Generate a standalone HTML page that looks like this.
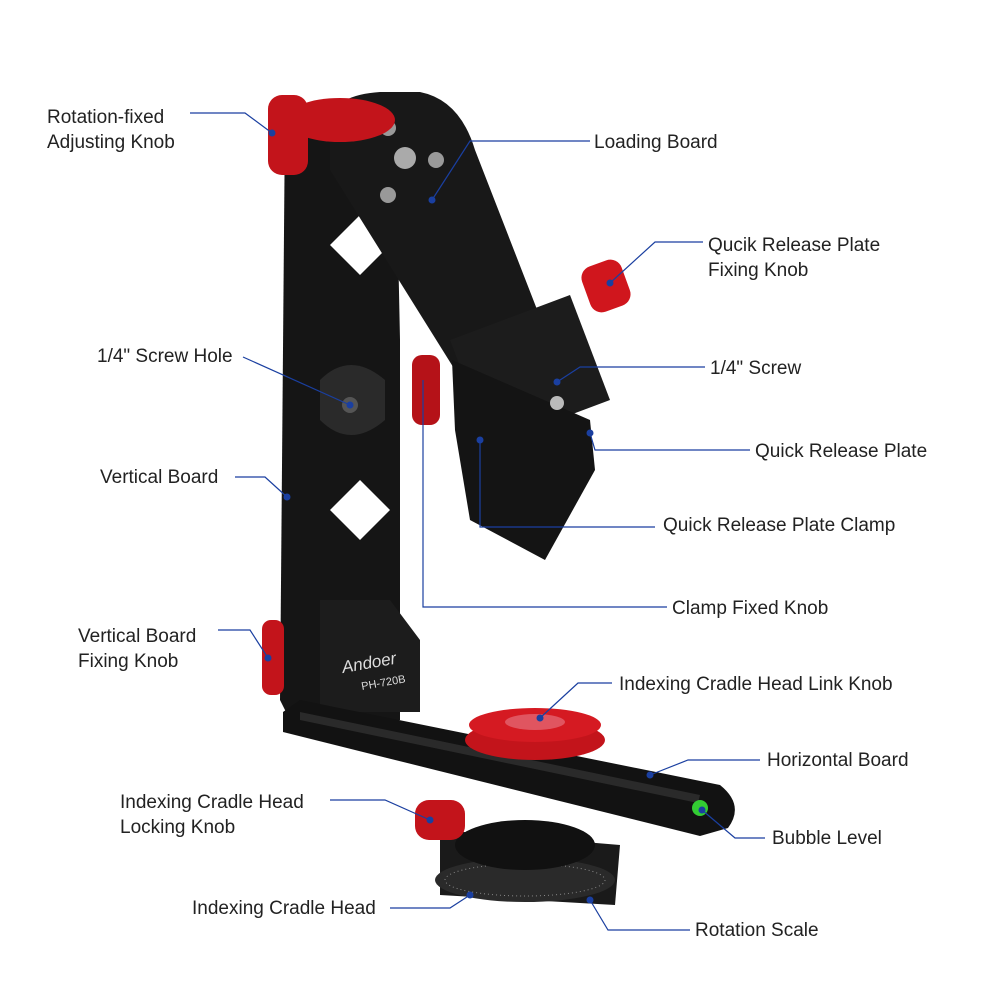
<!DOCTYPE html>
<html><head><meta charset="utf-8"><style>
html,body{margin:0;padding:0;background:#fff}
svg{display:block}
text{font-family:"Liberation Sans",sans-serif;font-size:19px;fill:#222;font-weight:300}
.l{stroke:#1a3fa0;stroke-width:1.2;fill:none}
.d{fill:#1a3fa0}
</style></head><body>
<svg width="1000" height="1000" viewBox="0 0 1000 1000">
<!-- vertical board -->
<path d="M285 115 L330 100 L395 100 L400 340 L400 720 L290 720 L280 700 Z" fill="#151515"/>
<path d="M330 245 L360 215 L390 245 L360 275 Z M330 510 L360 480 L390 510 L360 540 Z" fill="#fff"/>
<path d="M320 380 Q350 350 385 380 L385 420 Q350 450 320 420 Z" fill="#2a2a2a"/>
<circle cx="350" cy="405" r="8" fill="#555"/>
<!-- base wedge -->
<path d="M320 600 L390 600 L420 640 L420 712 L320 712 Z" fill="#1c1c1c"/>
<text x="343" y="673" style="fill:#ddd;font-size:17px;font-style:italic" transform="rotate(-10 343 673)">Andoer</text>
<text x="362" y="690" style="fill:#ddd;font-size:11px" transform="rotate(-10 362 690)">PH-720B</text>
<!-- horizontal board -->
<path d="M283 712 L300 700 L720 785 Q745 805 728 828 L700 836 L283 732 Z" fill="#121212"/>
<path d="M300 712 L700 795 L698 803 L300 720 Z" fill="#2a2a2a"/>
<!-- rotation base -->
<path d="M440 830 L620 845 L615 905 L440 895 Z" fill="#1a1a1a"/>
<ellipse cx="525" cy="880" rx="90" ry="22" fill="#2a2a2a"/>
<ellipse cx="525" cy="880" rx="80" ry="16" fill="none" stroke="#888" stroke-width="1" stroke-dasharray="1 3"/>
<ellipse cx="525" cy="845" rx="70" ry="25" fill="#111"/>
<!-- loading board (diagonal) -->
<path d="M330 120 Q335 95 380 92 L420 92 Q460 100 475 150 L545 330 L455 370 L330 170 Z" fill="#181818"/>
<circle cx="388" cy="128" r="8" fill="#999"/><circle cx="405" cy="158" r="11" fill="#aaa"/><circle cx="436" cy="160" r="8" fill="#999"/><circle cx="388" cy="195" r="8" fill="#999"/>
<!-- quick release plate & clamp -->
<path d="M450 340 L570 295 L610 400 L490 445 Z" fill="#1c1c1c"/>
<path d="M452 360 L590 420 L595 470 L545 560 L470 520 L455 430 Z" fill="#141414"/>
<circle cx="557" cy="403" r="7" fill="#bbb"/>
<!-- red knobs -->
<ellipse cx="340" cy="120" rx="55" ry="22" fill="#c3141b"/>
<rect x="268" y="95" width="40" height="80" rx="14" fill="#c3141b"/>
<rect x="262" y="620" width="22" height="75" rx="9" fill="#c3141b"/>
<rect x="412" y="355" width="28" height="70" rx="10" fill="#b51218"/>
<rect x="585" y="262" width="42" height="48" rx="12" fill="#d0161d" transform="rotate(-20 606 286)"/>
<ellipse cx="535" cy="740" rx="70" ry="20" fill="#c3141b"/>
<ellipse cx="535" cy="725" rx="66" ry="17" fill="#d51a22"/>
<ellipse cx="535" cy="722" rx="30" ry="8" fill="#e05560"/>
<rect x="415" y="800" width="50" height="40" rx="14" fill="#c3141b"/>
<circle cx="700" cy="808" r="8" fill="#3c3"/>
<!-- labels & leaders -->
<text x="47" y="123">Rotation-fixed</text><text x="47" y="148">Adjusting Knob</text>
<path class="l" d="M190 113 H245 L272 133"/><circle class="d" cx="272" cy="133" r="3.5"/>
<text x="594" y="148">Loading Board</text>
<path class="l" d="M590 141 H470 L432 200"/><circle class="d" cx="432" cy="200" r="3.5"/>
<text x="708" y="251">Qucik Release Plate</text><text x="708" y="276">Fixing Knob</text>
<path class="l" d="M703 242 H655 L610 283"/><circle class="d" cx="610" cy="283" r="3.5"/>
<text x="97" y="362">1/4" Screw Hole</text>
<path class="l" d="M243 357 L350 405"/><circle class="d" cx="350" cy="405" r="3.5"/>
<text x="710" y="374">1/4" Screw</text>
<path class="l" d="M705 367 H580 L557 382"/><circle class="d" cx="557" cy="382" r="3.5"/>
<text x="755" y="457">Quick Release Plate</text>
<path class="l" d="M750 450 H595 L590 433"/><circle class="d" cx="590" cy="433" r="3.5"/>
<text x="100" y="483">Vertical Board</text>
<path class="l" d="M235 477 H265 L287 497"/><circle class="d" cx="287" cy="497" r="3.5"/>
<text x="663" y="531">Quick Release Plate Clamp</text>
<path class="l" d="M655 527 H480 V440"/><circle class="d" cx="480" cy="440" r="3.5"/>
<text x="672" y="614">Clamp Fixed Knob</text>
<path class="l" d="M667 607 H423 V380"/>
<text x="78" y="642">Vertical Board</text><text x="78" y="667">Fixing Knob</text>
<path class="l" d="M218 630 H250 L268 658"/><circle class="d" cx="268" cy="658" r="3.5"/>
<text x="619" y="690">Indexing Cradle Head Link Knob</text>
<path class="l" d="M612 683 H578 L540 718"/><circle class="d" cx="540" cy="718" r="3.5"/>
<text x="767" y="766">Horizontal Board</text>
<path class="l" d="M760 760 H688 L650 775"/><circle class="d" cx="650" cy="775" r="3.5"/>
<text x="120" y="808">Indexing Cradle Head</text><text x="120" y="833">Locking Knob</text>
<path class="l" d="M330 800 H385 L430 820"/><circle class="d" cx="430" cy="820" r="3.5"/>
<text x="772" y="844">Bubble Level</text>
<path class="l" d="M765 838 H735 L702 810"/><circle class="d" cx="702" cy="810" r="3.5"/>
<text x="192" y="914">Indexing Cradle Head</text>
<path class="l" d="M390 908 H450 L470 895"/><circle class="d" cx="470" cy="895" r="3.5"/>
<text x="695" y="936">Rotation Scale</text>
<path class="l" d="M690 930 H608 L590 900"/><circle class="d" cx="590" cy="900" r="3.5"/>
</svg>
</body></html>
